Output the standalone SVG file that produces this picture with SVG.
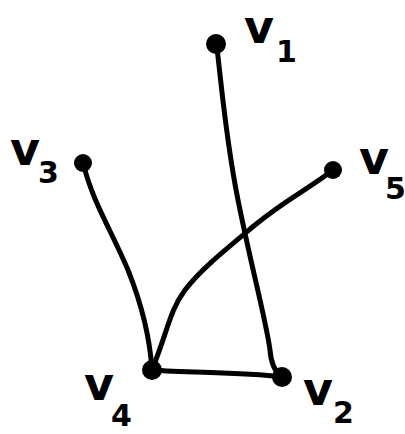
<svg xmlns="http://www.w3.org/2000/svg" width="405" height="434" viewBox="0 0 405 434">
<style>
.e{fill:none;stroke:#000;stroke-width:5;stroke-linecap:round;stroke-linejoin:round}
.n{fill:#000}
.t{font-family:"DejaVu Sans",sans-serif;font-weight:bold;font-size:46px;fill:#000}
.s{font-size:30px}
</style>
<rect width="405" height="434" fill="#fff"/>
<g id="connectors">
<path class="e" d="M217,48 C222,90 226,140 238,200 C252,270 266,320 270,350 C271,364 275,372 282,377"/>
<path class="e" d="M84,166 C92,200 112,232 128,270 C142,305 150,340 152,370"/>
<path class="e" d="M333,170 C310,188 285,200 255,225 C225,250 200,270 185,290 C170,310 168,330 152,370"/>
<path class="e" d="M152,370 C190,373 240,372 282,377"/>
</g>
<g id="v1"><circle class="n" cx="216" cy="44" r="10"/><text class="t" x="244" y="43">v<tspan class="s" dx="2" dy="19">1</tspan></text></g>
<g id="v3"><circle class="n" cx="83" cy="163" r="9"/><text class="t" x="10" y="165">v<tspan class="s" dx="-2" dy="18">3</tspan></text></g>
<g id="v5"><circle class="n" cx="333" cy="170" r="9"/><text class="t" x="359" y="174">v<tspan class="s" dx="-4" dy="25">5</tspan></text></g>
<g id="v4"><circle class="n" cx="152" cy="370" r="10"/><text class="t" x="84" y="400">v<tspan class="s" dx="-3" dy="26">4</tspan></text></g>
<g id="v2"><circle class="n" cx="282" cy="377" r="10"/><text class="t" x="303" y="405">v<tspan class="s" dx="0" dy="18">2</tspan></text></g>
</svg>
